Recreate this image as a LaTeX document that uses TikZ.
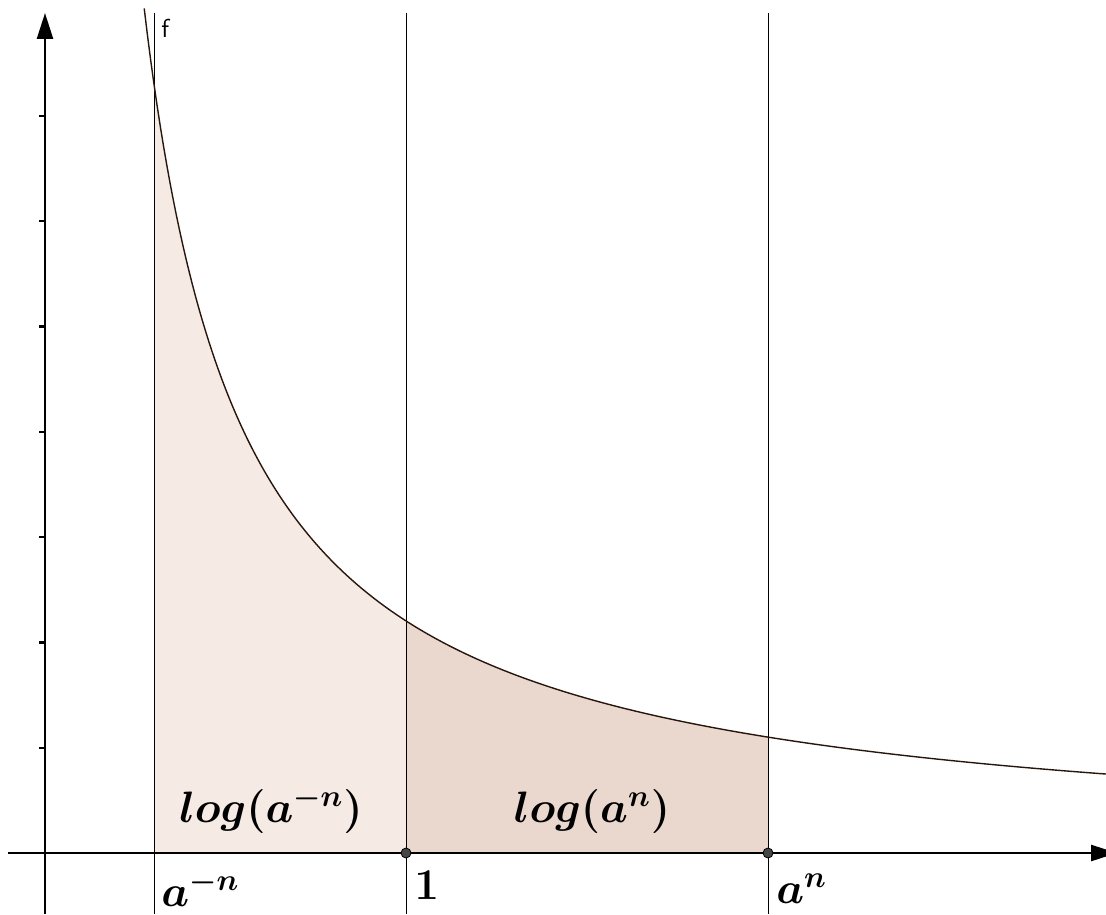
\documentclass[tikz,border=0pt]{standalone}
\usepackage{graphicx}
\usetikzlibrary{arrows.meta}
\definecolor{fillA}{RGB}{245,234,228}
\definecolor{fillB}{RGB}{234,215,205}
\definecolor{curveC}{RGB}{40,22,12}
\definecolor{ptC}{RGB}{70,70,70}
\newcommand{\mylbl}[1]{\scalebox{1.06}{$#1$}}
\begin{document}
\begin{tikzpicture}[x=0.5pt,y=-0.5pt,
  axis/.style={line width=1.25pt,-{Triangle[length=13pt,width=8pt]}},
  thin/.style={line width=0.5pt},
  fcurve/.style={line width=0.7pt,draw=curveC},
  tick/.style={line width=1.1pt},
  pt/.style={circle,fill=ptC,draw=black,line width=0.4pt,inner sep=0pt,minimum size=5pt},
  lbl/.style={font=\fontsize{20.74}{25}\selectfont\boldmath,inner sep=0pt},
  flbl/.style={font=\fontsize{13}{15}\selectfont\sffamily,inner sep=0pt}]
\useasboundingbox (0,0) rectangle (1106,914);
\clip (0,0) rectangle (1106,914);
% fills
\fill[fillA] (154,853) -- plot[domain=154:406,samples=120] (\x,{853-232.1*(361/(\x-45))}) -- (406,853) -- cycle;
\fill[fillB] (406,853) -- plot[domain=406:768,samples=120] (\x,{853-232.1*(361/(\x-45))}) -- (768,853) -- cycle;
\draw[curveC!60!fillB,line width=0.6pt] (154,853) -- (768,853);
\draw[curveC!40!fillB,line width=0.5pt] (768,737.1) -- (768,853);
% vertical lines
\coordinate (v1t) at (154,13); \coordinate (v1b) at (154,914);
\coordinate (v2t) at (406,13); \coordinate (v2b) at (406,914);
\coordinate (v3t) at (768,13); \coordinate (v3b) at (768,914);
\draw[thin] (v1t) -- (v1b);
\draw[thin] (v2t) -- (v2b);
\draw[thin] (v3t) -- (v3b);
% curve
\draw[fcurve] plot[domain=144.2:1106,samples=300] (\x,{853-232.1*(361/(\x-45))});
\node[flbl,anchor=west] (f) at (161,28) {f};
% axes
\coordinate (xs) at (8,853); \coordinate (xe) at (1117,853);
\coordinate (ys) at (45,914); \coordinate (ye) at (45,13);
\draw[axis] (xs) -- (xe);
\draw[axis] (ys) -- (ye);
\foreach \k in {1,...,7} \draw[tick] (39,{853-105.3*\k}) -- (45,{853-105.3*\k});
% points
\node[pt] (P1) at (406,853) {};
\node[pt] (P2) at (768,853) {};
% labels
\node[lbl,anchor=base] (L1) at (271,822) {\mylbl{log(a^{-n})}};
\node[lbl,anchor=base] (L2) at (592,822) {\mylbl{log(a^{n})}};
\node[lbl,anchor=base west] (T1) at (161,906) {\mylbl{a^{-n}}};
\node[lbl,anchor=base west] (T2) at (414,899) {\mylbl{1}};
\node[lbl,anchor=base west] (T3) at (776,903) {\mylbl{a^{n}}};
\end{tikzpicture}
\end{document}
